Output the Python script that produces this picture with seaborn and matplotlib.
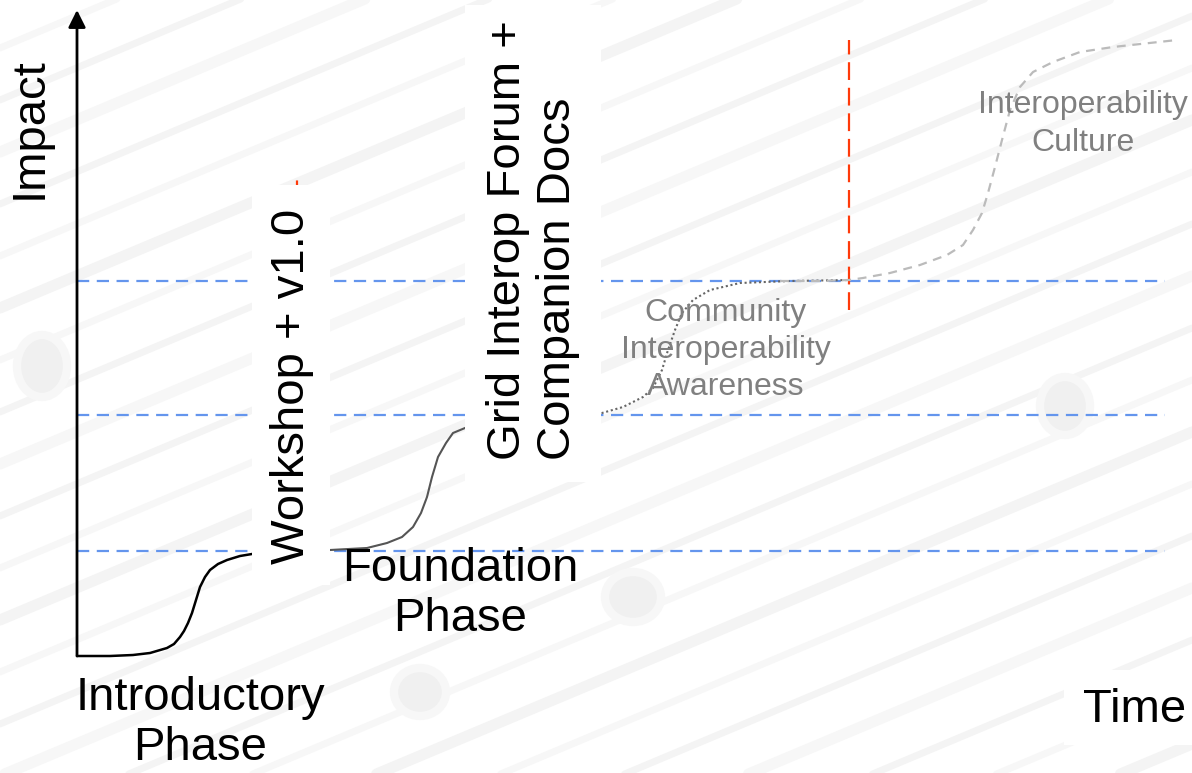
import numpy as np
import pandas as pd
import matplotlib
matplotlib.use("Agg")
import matplotlib.pyplot as plt
import seaborn as sns
from matplotlib.patches import Rectangle, Ellipse

# ---- data -------------------------------------------------------------
# impact level reached at the end of each phase
phase_levels = [105, 241, 375]

# introductory phase (time, impact)
intro_t = [0, 33, 56, 73, 90, 97, 103, 107, 111, 115, 119, 123, 128, 133, 141, 150, 163, 175, 185]
intro_i = [0, 0, 1, 3, 8, 12, 19, 25, 33, 43, 56, 69, 79, 86, 92, 96, 100, 102, 103]

# foundation phase
found_t = [243, 253, 290, 310, 325, 336, 344, 350, 355, 361, 369, 376, 388, 398]
found_i = [105, 106, 108, 113, 119, 129, 143, 159, 179, 199, 213, 223, 228, 231]

# community interoperability awareness (projected)
comm_t = [515, 525, 546, 566, 576, 585, 591, 598, 605, 616, 633, 663, 713, 773]
comm_i = [242, 243, 249, 259, 268, 286, 306, 326, 343, 356, 366, 373, 375, 376]

# interoperability culture (projected)
cult_t = [703, 743, 772, 786, 813, 843, 870, 886, 896, 905, 911, 918, 925, 933,
          943, 956, 976, 1003, 1036, 1100]
cult_i = [375, 375, 376, 378, 383, 391, 401, 411, 426, 443, 463, 489, 516, 546,
          569, 584, 594, 604, 609, 616]

# "today" marker and workshop marker
today_t = 772
today_span = [346, 616]
workshop_t = 220
workshop_span = [180, 479]

# ---- style ------------------------------------------------------------
sns.set_theme(style="white")
plt.rcParams["font.family"] = ["Liberation Sans", "DejaVu Sans"]

fig = plt.figure(figsize=(11.92, 7.73), dpi=100)
ax = fig.add_axes([0, 0, 1, 1])
ax.set_xlim(-77, 1115)
ax.set_ylim(-117, 656)
ax.set_axis_off()
fig.patch.set_facecolor("white")

# faint circuit-board backdrop
for k, c in enumerate(range(-900, 700, 52)):
    ax.plot([-77, 1115], [c, c + 500], color="#f7f7f7" if k % 2 else "#f4f4f4",
            lw=5 if k % 3 else 8, solid_capstyle="round", zorder=0)
for (cx, cy, w, h) in [(-35, 290, 50, 62), (988, 250, 50, 58), (556, 59, 56, 50),
                       (343, -36, 52, 48)]:
    ax.add_patch(Ellipse((cx, cy), w, h, facecolor="#f0f0f0", edgecolor="#f7f7f7",
                         lw=6, zorder=0.5))

# phase level guides
for lvl in phase_levels:
    ax.plot([0, 1088], [lvl, lvl], color="#6495ED", lw=1.6,
            dashes=(5.5, 3.4), zorder=1)

# phase curves
sns.lineplot(x=intro_t, y=intro_i, ax=ax, color="black", lw=1.8,
             sort=False, estimator=None, zorder=3)
sns.lineplot(x=found_t, y=found_i, ax=ax, color="#555555", lw=1.5,
             sort=False, estimator=None, zorder=3)
sns.lineplot(x=comm_t, y=comm_i, ax=ax, color="#666666", lw=1.5,
             sort=False, estimator=None, zorder=3)
ax.lines[-1].set_linestyle((0, (1, 1.3)))
sns.lineplot(x=cult_t, y=cult_i, ax=ax, color="#bbbbbb", lw=1.6,
             sort=False, estimator=None, zorder=3)
ax.lines[-1].set_linestyle((0, (4, 3)))

# milestone markers
ax.plot([today_t, today_t], today_span, color="#FF3A0A", lw=1.6,
        dashes=(8, 3.5), zorder=2)
ax.plot([workshop_t, workshop_t], workshop_span, color="#FF3A0A", lw=1.6,
        dashes=(3, 3.5), zorder=2)

# axes arrows
ax.annotate("", xy=(0, 646), xytext=(0, 0),
            arrowprops=dict(arrowstyle="-|>", lw=2, color="black",
                            mutation_scale=26, shrinkA=0, shrinkB=0), zorder=6)
ax.annotate("", xy=(1130, 0), xytext=(0, 0),
            arrowprops=dict(arrowstyle="-|>", lw=2, color="black",
                            mutation_scale=26, shrinkA=0, shrinkB=0), zorder=6)

# label panels
for (x0, y0, w, h) in [(175, 71, 78, 400), (388, 174, 136, 477), (987, -89, 128, 75)]:
    ax.add_patch(Rectangle((x0, y0), w, h, facecolor="white", edgecolor="none",
                           zorder=4))

big = 34
ink = "black"
ax.text(-47, 528, "Impact", rotation=90, fontsize=big, color=ink, ha="center",
        va="center", zorder=7)
ax.text(215, 270, "Workshop + v1.0", rotation=90, fontsize=big, color=ink,
        ha="center", va="center", zorder=7)
ax.text(456, 416, "Grid Interop Forum +\nCompanion Docs", rotation=90,
        fontsize=big, color=ink, ha="center", va="center",
        multialignment="left", zorder=7)
ax.text(383, 62, "Foundation\nPhase", fontsize=big, color=ink, ha="center",
        va="center", zorder=7)
ax.text(123, -67, "Introductory\nPhase", fontsize=big, color=ink, ha="center",
        va="center", zorder=7)
ax.text(1058, -54, "Time", fontsize=big, color=ink, ha="center", va="center",
        zorder=7)

ax.text(649, 306, "Community\nInteroperability\nAwareness", fontsize=23,
        color="#808080", ha="center", va="center", linespacing=1.32, zorder=7)
ax.text(1006, 532, "Interoperability\nCulture", fontsize=23, color="#808080",
        ha="center", va="center", linespacing=1.35, zorder=7)

fig.savefig("out.png", dpi=100, facecolor="white")
